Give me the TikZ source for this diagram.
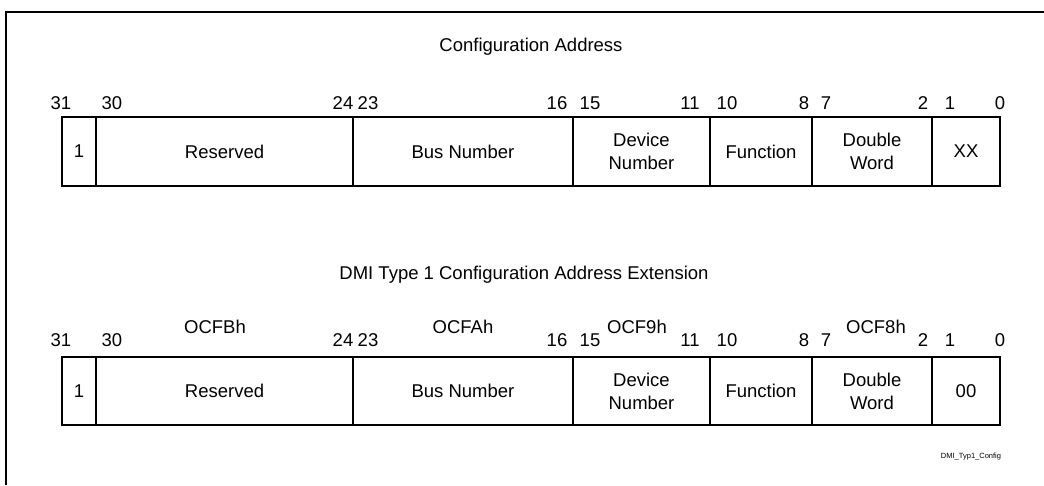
\documentclass[tikz,border=0pt]{standalone}
\usepackage{fontspec}
\setmainfont{Liberation Sans}
\begin{document}
\begin{tikzpicture}[x=1pt,y=-1pt,
  txt/.style={font=\fontsize{18.5}{23}\selectfont, inner sep=0pt, align=center},
  small/.style={font=\fontsize{7.5}{9}\selectfont, inner sep=0pt},
  field/.style={draw, line width=1.4pt, inner sep=0pt, align=center, font=\fontsize{18.5}{23}\selectfont},
  frameline/.style={line width=2.6pt}]
\useasboundingbox (0,0) rectangle (1044,485);
% frame
\coordinate (fbl) at (6,485);
\coordinate (ftl) at (6,12);
\coordinate (ftr) at (1044,12);
\draw[frameline] (fbl) -- (ftl) -- (ftr);
% titles
\node[txt] (t1) at (531,47) {Configuration Address};
\node[txt] (t2) at (524,275) {DMI Type 1 Configuration Address Extension};
% top row fields
\foreach \n/\a/\b/\t in {a1/62/96/1, a2/96/353/Reserved, a3/353/573/Bus Number, a4/573/710/Device\\Number, a5/710/812/Function, a6/812/932/Double\\Word, a7/932/1000/XX}{
  \node[field, minimum width={\b-\a}, minimum height=69] (\n) at ({(\a+\b)/2},151.5) {\t};
}
% bottom row fields
\foreach \n/\a/\b/\t in {b1/62/96/1, b2/96/353/Reserved, b3/353/573/Bus Number, b4/573/710/Device\\Number, b5/710/812/Function, b6/812/932/Double\\Word, b7/932/1000/00}{
  \node[field, minimum width={\b-\a}, minimum height=68] (\n) at ({(\a+\b)/2},391) {\t};
}
% bit numbers
\foreach \n/\x/\t in {31/61/31, 30/112/30, 24/343/24, 23/368/23, 16/557/16, 15/590/15, 11/690/11, 10/727/10, 8/804/8, 7/826/7, 2/923/2, 1/950/1, 0/1000/0}{
  \node[txt] (ta\n) at (\x,103) {\t};
  \node[txt] (tb\n) at (\x,340) {\t};
}
% hex labels
\node[txt] (hB) at (215,327) {OCFBh};
\node[txt] (hA) at (463,327) {OCFAh};
\node[txt] (h9) at (637,327) {OCF9h};
\node[txt] (h8) at (876,327) {OCF8h};
% figure tag
\node[small] (tag) at (971,457) {DMI\_Typ1\_Config};
\end{tikzpicture}
\end{document}
